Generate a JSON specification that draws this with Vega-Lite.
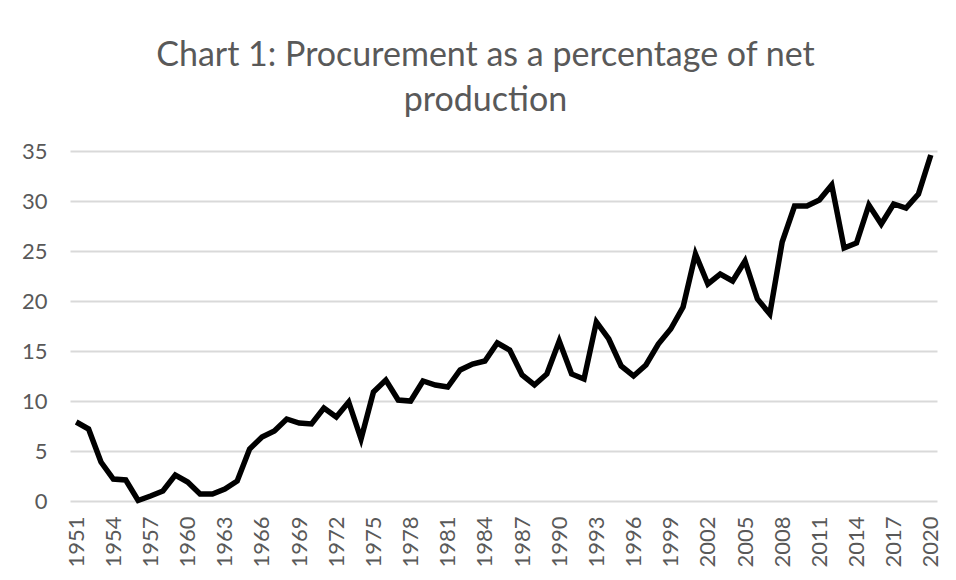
{
  "$schema": "https://vega.github.io/schema/vega-lite/v6.json",
  "autosize": {"type": "none"},
  "width": 867,
  "height": 350,
  "padding": {"left": 70, "top": 151, "right": 19, "bottom": 79},
  "background": "white",
  "title": {
    "text": ["Chart 1: Procurement as a percentage of net", "production"],
    "anchor": "middle",
    "font": "Lato",
    "fontSize": 34,
    "fontWeight": "normal",
    "color": "#595959",
    "lineHeight": 45,
    "offset": 22,
    "dx": -18
  },
  "config": {
    "view": {"stroke": null},
    "axis": {"labelFont": "Lato", "labelColor": "#595959", "labelFontSize": 22, "ticks": false, "domain": false}
  },
  "data": {
    "values": [
      {"year": 1951, "pct": 7.9}, {"year": 1952, "pct": 7.2}, {"year": 1953, "pct": 3.9}, {"year": 1954, "pct": 2.2},
      {"year": 1955, "pct": 2.1}, {"year": 1956, "pct": 0.05}, {"year": 1957, "pct": 0.5}, {"year": 1958, "pct": 1.0},
      {"year": 1959, "pct": 2.6}, {"year": 1960, "pct": 1.9}, {"year": 1961, "pct": 0.7}, {"year": 1962, "pct": 0.7},
      {"year": 1963, "pct": 1.2}, {"year": 1964, "pct": 2.0}, {"year": 1965, "pct": 5.2}, {"year": 1966, "pct": 6.4},
      {"year": 1967, "pct": 7.0}, {"year": 1968, "pct": 8.2}, {"year": 1969, "pct": 7.8}, {"year": 1970, "pct": 7.7},
      {"year": 1971, "pct": 9.3}, {"year": 1972, "pct": 8.4}, {"year": 1973, "pct": 9.9}, {"year": 1974, "pct": 6.2},
      {"year": 1975, "pct": 10.9}, {"year": 1976, "pct": 12.1}, {"year": 1977, "pct": 10.1}, {"year": 1978, "pct": 10.0},
      {"year": 1979, "pct": 12.0}, {"year": 1980, "pct": 11.6}, {"year": 1981, "pct": 11.4}, {"year": 1982, "pct": 13.1},
      {"year": 1983, "pct": 13.7}, {"year": 1984, "pct": 14.0}, {"year": 1985, "pct": 15.8}, {"year": 1986, "pct": 15.1},
      {"year": 1987, "pct": 12.6}, {"year": 1988, "pct": 11.6}, {"year": 1989, "pct": 12.7}, {"year": 1990, "pct": 16.0},
      {"year": 1991, "pct": 12.7}, {"year": 1992, "pct": 12.2}, {"year": 1993, "pct": 17.9}, {"year": 1994, "pct": 16.2},
      {"year": 1995, "pct": 13.5}, {"year": 1996, "pct": 12.5}, {"year": 1997, "pct": 13.6}, {"year": 1998, "pct": 15.7},
      {"year": 1999, "pct": 17.2}, {"year": 2000, "pct": 19.4}, {"year": 2001, "pct": 24.7}, {"year": 2002, "pct": 21.7},
      {"year": 2003, "pct": 22.7}, {"year": 2004, "pct": 22.0}, {"year": 2005, "pct": 24.0}, {"year": 2006, "pct": 20.2},
      {"year": 2007, "pct": 18.7}, {"year": 2008, "pct": 25.9}, {"year": 2009, "pct": 29.5}, {"year": 2010, "pct": 29.5},
      {"year": 2011, "pct": 30.1}, {"year": 2012, "pct": 31.6}, {"year": 2013, "pct": 25.3}, {"year": 2014, "pct": 25.8},
      {"year": 2015, "pct": 29.6}, {"year": 2016, "pct": 27.7}, {"year": 2017, "pct": 29.7}, {"year": 2018, "pct": 29.3},
      {"year": 2019, "pct": 30.7}, {"year": 2020, "pct": 34.6}
    ]
  },
  "mark": {"type": "line", "color": "black", "strokeWidth": 5.5, "strokeJoin": "miter", "strokeCap": "butt"},
  "encoding": {
    "x": {
      "field": "year",
      "type": "ordinal",
      "scale": {"type": "point", "padding": 0.5},
      "axis": {
        "title": null,
        "grid": false,
        "labelAngle": -90,
        "labelPadding": 15,
        "values": [1951, 1954, 1957, 1960, 1963, 1966, 1969, 1972, 1975, 1978, 1981, 1984, 1987, 1990, 1993, 1996, 1999, 2002, 2005, 2008, 2011, 2014, 2017, 2020]
      }
    },
    "y": {
      "field": "pct",
      "type": "quantitative",
      "scale": {"domain": [0, 35], "nice": false},
      "axis": {
        "title": null,
        "values": [0, 5, 10, 15, 20, 25, 30, 35],
        "gridColor": "#d9d9d9",
        "gridWidth": 2,
        "labelPadding": 23
      }
    }
  }
}
